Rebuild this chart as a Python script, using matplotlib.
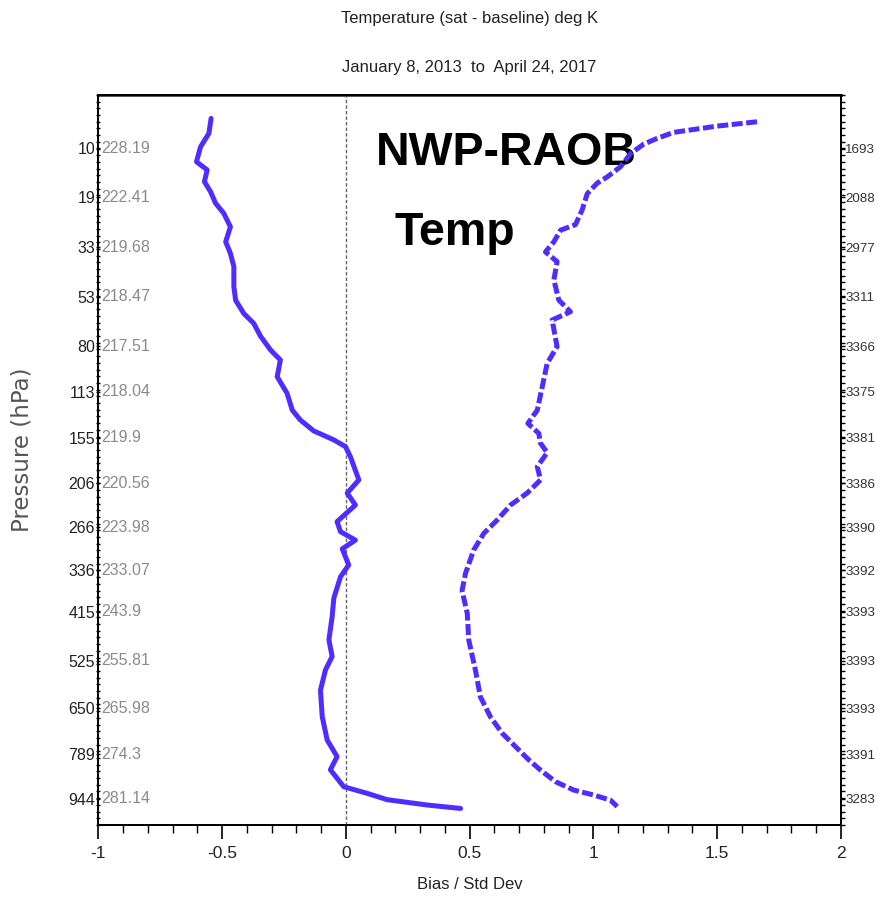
import numpy as np
import matplotlib
matplotlib.use("Agg")
import matplotlib.pyplot as plt

plt.rcParams['font.family'] = ['Liberation Sans', 'DejaVu Sans']

# Labelled pressure levels (hPa), mean temperature and sample counts
levels = [10, 19, 33, 53, 80, 113, 155, 206, 266, 336, 415, 525, 650, 789, 944]
temps = ["228.19", "222.41", "219.68", "218.47", "217.51", "218.04", "219.9",
         "220.56", "223.98", "233.07", "243.9", "255.81", "265.98", "274.3", "281.14"]
counts = ["1693", "2088", "2977", "3311", "3366", "3375", "3381", "3386",
          "3390", "3392", "3393", "3393", "3393", "3391", "3283"]

# Bias profile
bias_p = [6.35, 8.04, 9.85, 12.1, 13.5, 15.7, 17.8, 20.4, 22.9, 26.6, 31.2, 35.1, 40,
          48.3, 54.5, 61.2, 66.5, 74, 82.5, 89.2, 101.2, 114.2, 128.5, 137.6, 148, 157,
          164, 175, 202, 218.6, 234.5, 258, 273, 286, 300, 327, 348, 388, 426, 476, 515,
          548, 600, 674, 744, 797, 841, 900, 924, 947, 967, 980]
bias = [-0.545, -0.554, -0.588, -0.604, -0.561, -0.572, -0.547, -0.527, -0.494, -0.467,
        -0.486, -0.467, -0.453, -0.453, -0.446, -0.413, -0.373, -0.345, -0.305, -0.265,
        -0.278, -0.238, -0.217, -0.184, -0.130, -0.049, -0.002, 0.018, 0.052, 0.005,
        0.038, -0.036, -0.022, 0.038, -0.015, 0.011, -0.022, -0.049, -0.056, -0.069,
        -0.056, -0.083, -0.103, -0.096, -0.076, -0.036, -0.063, -0.009, 0.086, 0.166,
        0.328, 0.463]

# Std dev profile
std_p = [6.7, 6.9, 7.18, 7.57, 7.92, 8.67, 9.44, 10.8, 12.95, 14.8, 16.0, 18.2, 22.1, 26,
         27.6, 31.2, 34.6, 38.1, 45.4, 54.5, 60.3, 64.7, 80.4, 91.5, 109, 128.5, 140.7,
         150.4, 160.5, 170.4, 186.2, 202, 218.6, 234.5, 255.6, 275.5, 302, 341.8, 373.6,
         418.6, 476.4, 548, 618, 675, 723, 765, 808, 842, 882, 912, 930, 949, 973]
std = [1.661, 1.594, 1.500, 1.405, 1.324, 1.257, 1.203, 1.150, 1.109, 1.055, 1.015,
       0.975, 0.954, 0.927, 0.867, 0.840, 0.806, 0.853, 0.840, 0.860, 0.907, 0.833,
       0.853, 0.813, 0.793, 0.773, 0.735, 0.779, 0.786, 0.813, 0.773, 0.786, 0.732,
       0.665, 0.611, 0.557, 0.516, 0.483, 0.469, 0.490, 0.496, 0.523, 0.543, 0.584,
       0.631, 0.685, 0.739, 0.786, 0.846, 0.920, 1.001, 1.069, 1.096]

KAPPA = 0.286
fwd = lambda p: np.power(np.clip(p, 1e-6, None), KAPPA)
inv = lambda t: np.power(np.clip(t, 1e-6, None), 1.0 / KAPPA)
p_top, p_bot = 4.23, 1044
blue = "#4f2cff"

fig = plt.figure(figsize=(8.77, 9.15), dpi=100)
ax = fig.add_axes([0.1123, 0.0984, 0.8466, 0.7978])
ax.set_yscale("function", functions=(fwd, inv))

ax.axvline(0, color="#666666", lw=1, ls=(0, (2.5, 1.5)), zorder=1)
ax.plot(bias, bias_p, color=blue, lw=3.6, solid_capstyle="round", zorder=3)
ax.plot(std, std_p, color=blue, lw=3.6, dashes=(2.2, 0.7), zorder=3)

ax.set_xlim(-1, 2)
ax.set_ylim(p_bot, p_top)

# x ticks
ax.set_xticks(np.arange(-1, 2.01, 0.5))
ax.set_xticklabels(["-1", "-0.5", "0", "0.5", "1", "1.5", "2"])
ax.set_xticks(np.arange(-1, 2.01, 0.1), minor=True)
ax.tick_params(axis="x", which="major", length=10, width=1.2, labelsize=12.5, pad=5,
               labelcolor="#222222")
ax.tick_params(axis="x", which="minor", length=6, width=1)

# y ticks (left)
minor_y = inv(np.linspace(fwd(p_top), fwd(p_bot), 110))
ax.set_yticks(levels)
ax.set_yticklabels([str(v) for v in levels])
ax.set_yticks(minor_y, minor=True)
ax.yaxis.set_minor_formatter(plt.NullFormatter())
ax.tick_params(axis="y", which="both", direction="inout", length=3, width=1,
               labelsize=11.5, pad=1, labelcolor="#222222")

# right axis with counts
ax2 = ax.twinx()
ax2.set_yscale("function", functions=(fwd, inv))
ax2.set_ylim(p_bot, p_top)
ax2.set_yticks(levels)
ax2.set_yticklabels(counts)
ax2.set_yticks(minor_y, minor=True)
ax2.yaxis.set_minor_formatter(plt.NullFormatter())
ax2.tick_params(axis="y", which="major", direction="out", length=3, width=1,
                labelsize=9.6, pad=0, labelcolor="#333333")
ax2.tick_params(axis="y", which="minor", direction="out", length=3, width=1)

for sp in list(ax.spines.values()) + list(ax2.spines.values()):
    sp.set_linewidth(1.4)
ax.spines["top"].set_color("#444444")
ax.spines["top"].set_linewidth(2)

# mean temperatures inside the axes
for lev, t in zip(levels, temps):
    ax.text(0.004, lev, t, transform=ax.get_yaxis_transform(), ha="left",
            va="center", fontsize=11.5, color="#8a8a8a")

ax.set_xlabel("Bias / Std Dev", fontsize=12, color="#222222", labelpad=12)
fig.text(0.025, 0.508, "Pressure (hPa)", rotation=90, ha="center", va="center",
         fontsize=16.5, color="#555555", family="DejaVu Sans")

fig.text(0.5354, 0.980, "Temperature (sat - baseline) deg K", ha="center",
         va="center", fontsize=12, color="#222222")
fig.text(0.5354, 0.9257, "January 8, 2013  to  April 24, 2017", ha="center",
         va="center", fontsize=12, color="#222222")

ax.text(0.374, 0.904, "NWP-RAOB", transform=ax.transAxes, ha="left", va="baseline",
        fontsize=33.5, fontweight="bold", family="Liberation Sans", color="black",
        zorder=2)
ax.text(0.399, 0.795, "Temp", transform=ax.transAxes, ha="left", va="baseline",
        fontsize=33.5, fontweight="bold", family="Liberation Sans", color="black",
        zorder=2)

fig.savefig("out.png", dpi=100)
